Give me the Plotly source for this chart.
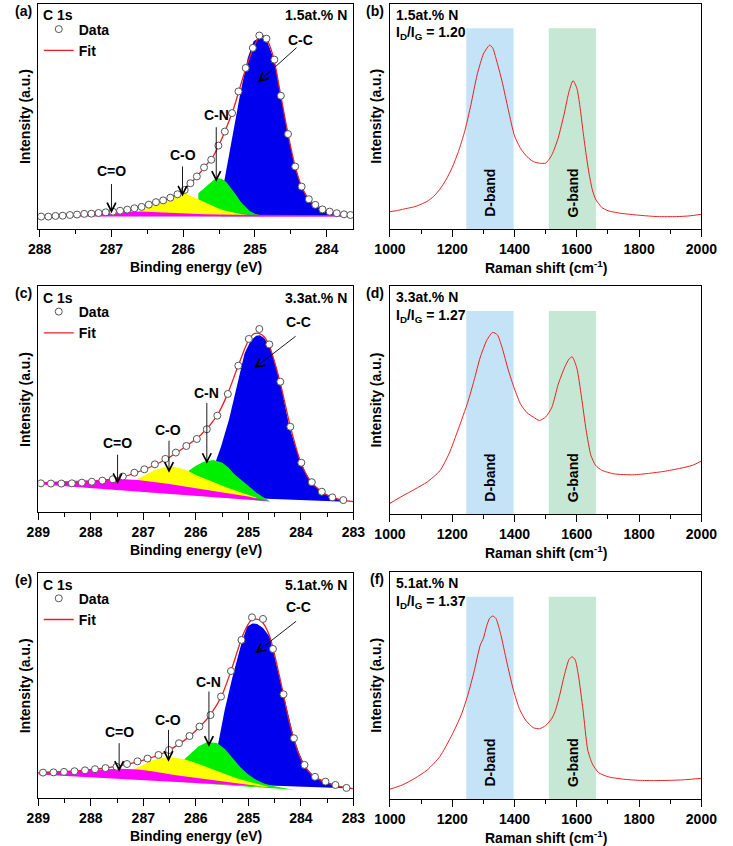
import plotly.graph_objects as go

W, H = 733, 846
FONT = "Liberation Sans, Arial, sans-serif"

# ===================== Panel (a): XPS C 1s, 1.5 at.% N =====================
a_data_E = [287.98, 287.88, 287.78, 287.68, 287.58, 287.48, 287.38, 287.28, 287.18, 287.08,
            286.98, 286.88, 286.78, 286.68, 286.58, 286.48, 286.38, 286.28, 286.18, 286.08,
            285.98, 285.90, 285.81, 285.71, 285.61, 285.51, 285.42, 285.32, 285.23, 285.13,
            285.03, 284.94, 284.84, 284.73, 284.64, 284.54, 284.44, 284.35, 284.25, 284.16,
            284.06, 283.96, 283.86, 283.76, 283.67]
a_data_I = [5.5, 5.5, 5.8, 5.9, 6.2, 6.4, 6.7, 6.8, 7.1, 7.4,
            7.7, 8.1, 8.6, 9.2, 9.8, 10.8, 11.9, 12.7, 13.9, 15.4,
            17.3, 20.3, 23.3, 27.3, 30.7, 37.0, 43.2, 51.4, 61.0, 71.4,
            80.3, 85.8, 84.4, 75.1, 59.1, 42.1, 27.7, 18.8, 13.2, 10.7,
            8.7, 7.7, 7.0, 6.5, 6.2]
a_fit_E = [288.0, 287.6, 287.2, 286.8, 286.6, 286.4, 286.2, 286.0, 285.9, 285.8, 285.7, 285.6,
           285.5, 285.4, 285.3, 285.2, 285.1, 285.0, 284.92, 284.85, 284.75, 284.65, 284.55,
           284.45, 284.35, 284.25, 284.15, 284.0, 283.8, 283.63]
a_fit_I = [5.5, 6.2, 7.0, 8.5, 9.7, 11.6, 13.6, 16.9, 20.2, 23.6, 27.6, 31.4,
           37.4, 44.8, 53.2, 63.8, 73.8, 82.0, 86.0, 84.8, 77.0, 60.8, 43.8,
           29.0, 18.8, 13.2, 10.5, 8.2, 6.8, 6.1]
a_cc_E = [285.47, 285.42, 285.37, 285.29, 285.20, 285.10, 285.02, 284.93, 284.84, 284.73, 284.64,
          284.54, 284.44, 284.35, 284.25, 284.16, 284.06, 283.96, 283.86, 283.76, 283.63]
a_cc_I = [14.0, 22.5, 31.4, 46.2, 61.0, 75.9, 83.3, 85.0, 84.0, 74.8, 58.8,
          41.8, 27.5, 18.6, 13.0, 10.5, 8.5, 7.5, 6.8, 6.3, 5.9]
a_cc_base = [5.6, 5.6]
a_cn_E = [285.79, 285.72, 285.65, 285.58, 285.53, 285.46, 285.40, 285.33, 285.26, 285.20,
          285.13, 285.07, 285.00, 284.93, 284.86]
a_cn_I = [15.8, 17.8, 19.8, 21.6, 22.6, 22.2, 20.8, 18.1, 15.0, 12.1, 9.6, 7.9, 6.8, 6.2, 5.8]
a_cn_base = [5.6, 5.6]
a_co_E = [286.60, 286.50, 286.40, 286.30, 286.20, 286.10, 286.02, 285.95, 285.89, 285.79,
          285.70, 285.60, 285.50, 285.40, 285.30, 285.20, 285.10, 285.00]
a_co_I = [8.0, 9.3, 10.8, 12.6, 14.2, 15.4, 15.9, 15.5, 14.6, 13.2,
          11.8, 10.3, 9.0, 8.0, 7.2, 6.6, 6.2, 5.9]
a_co_base = [5.6, 5.6]
a_c2o_E = [288.00, 287.70, 287.40, 287.10, 286.85, 286.60, 286.30, 286.00, 285.70, 285.30,
           284.80, 284.20, 283.63]
a_c2o_I = [5.8, 6.1, 6.6, 7.2, 7.7, 7.8, 7.3, 6.8, 6.5, 6.3, 6.2, 6.2, 6.1]
a_c2o_base = [5.5, 5.5]

# ===================== Panel (c): XPS C 1s, 3.3 at.% N =====================
c_data_E = [288.95, 288.76, 288.56, 288.36, 288.17, 287.98, 287.78, 287.58, 287.39, 287.17,
            286.98, 286.78, 286.58, 286.38, 286.18, 285.98, 285.79, 285.59, 285.39, 285.19,
            284.99, 284.79, 284.60, 284.39, 284.20, 283.99, 283.79, 283.60, 283.40, 283.19]
c_data_I = [12.8, 12.7, 12.7, 12.8, 13.1, 13.5, 14.0, 14.6, 15.8, 17.5,
            19.0, 21.2, 23.6, 26.4, 29.3, 32.4, 36.7, 42.7, 52.3, 64.8,
            76.6, 81.0, 74.2, 57.7, 37.8, 21.9, 13.3, 9.1, 6.6, 5.4]
c_fit_E = [289.0, 288.6, 288.2, 287.8, 287.4, 287.0, 286.6, 286.2, 285.9, 285.6, 285.4, 285.2,
           285.0, 284.9, 284.8, 284.7, 284.6, 284.4, 284.2, 284.0, 283.8, 283.6, 283.4, 283.2, 283.0]
c_fit_I = [13.0, 12.8, 13.1, 14.0, 15.6, 18.7, 23.0, 29.0, 34.3, 42.5, 52.0, 64.3,
           75.8, 78.8, 79.1, 77.6, 73.6, 58.0, 38.0, 22.0, 13.3, 9.1, 6.6, 5.4, 4.7]
c_cc_E = [285.68, 285.61, 285.52, 285.37, 285.22, 285.07, 284.95, 284.85, 284.78, 284.70, 284.60,
          284.50, 284.39, 284.30, 284.22, 284.10, 283.99, 283.90, 283.79, 283.70, 283.60, 283.50,
          283.40, 283.30, 283.19, 283.15]
c_cc_I = [14.0, 23.1, 29.0, 40.8, 55.5, 70.3, 76.0, 78.0, 78.2, 77.0, 73.5,
          67.0, 57.5, 47.5, 38.0, 29.0, 21.8, 17.0, 13.2, 11.0, 9.0, 7.6,
          6.5, 5.8, 5.2, 5.0]
c_cc_base = [6.9, 4.7]
c_cn_E = [286.13, 286.00, 285.85, 285.67, 285.50, 285.38, 285.28, 285.13, 284.98, 284.85, 284.73, 284.58]
c_cn_I = [18.5, 20.6, 22.3, 23.1, 22.0, 19.8, 17.2, 14.2, 11.3, 8.8, 6.9, 4.8]
c_cn_base = [7.6, 4.8]
c_co_E = [287.12, 286.95, 286.78, 286.60, 286.48, 286.35, 286.18, 286.00, 285.80, 285.59,
          285.40, 285.19, 285.00, 284.85]
c_co_I = [14.6, 16.8, 18.7, 19.8, 20.2, 19.8, 18.7, 16.5, 14.5, 12.5, 10.8, 9.2, 7.8, 6.5]
c_co_base = [9.2, 5.4]
c_c2o_E = [289.00, 288.60, 288.20, 287.80, 287.45, 287.10, 286.80, 286.50, 286.18, 285.80,
           285.40, 285.00, 284.61]
c_c2o_I = [13.3, 13.7, 14.1, 14.5, 14.7, 14.3, 13.5, 12.5, 11.3, 10.0, 8.6, 7.0, 5.0]
c_c2o_base = [12.4, 4.9]

# ===================== Panel (e): XPS C 1s, 5.1 at.% N =====================
e_data_E = [288.91, 288.71, 288.51, 288.31, 288.11, 287.92, 287.72, 287.51, 287.31, 287.11,
            286.92, 286.71, 286.51, 286.32, 286.12, 285.93, 285.72, 285.52, 285.33, 285.13,
            284.93, 284.72, 284.53, 284.33, 284.13, 283.93, 283.73, 283.53, 283.34, 283.13]
e_data_I = [11.4, 11.5, 11.7, 12.0, 12.4, 12.9, 13.4, 14.0, 15.2, 16.4,
            17.6, 19.2, 21.4, 24.4, 27.6, 31.8, 36.9, 45.1, 56.4, 70.2,
            80.2, 79.5, 66.2, 46.1, 26.6, 14.8, 9.5, 7.4, 5.9, 4.6]
e_fit_E = [289.0, 288.6, 288.2, 287.8, 287.4, 287.0, 286.6, 286.2, 285.9, 285.7, 285.5, 285.3,
           285.1, 284.95, 284.85, 284.75, 284.6, 284.4, 284.2, 284.0, 283.8, 283.6, 283.4, 283.2, 283.0]
e_fit_I = [11.4, 11.7, 12.3, 13.2, 14.6, 16.9, 20.2, 26.0, 32.3, 37.8, 45.8, 58.5,
           72.5, 78.8, 79.4, 78.5, 72.3, 53.5, 32.0, 17.5, 10.6, 7.7, 6.1, 4.9, 4.3]
e_cc_E = [285.65, 285.57, 285.45, 285.30, 285.13, 285.02, 284.92, 284.83, 284.72, 284.60, 284.53,
          284.43, 284.33, 284.23, 284.13, 284.03, 283.93, 283.83, 283.73, 283.53, 283.34, 283.13]
e_cc_I = [15.0, 24.7, 39.1, 53.9, 68.7, 76.1, 77.5, 77.3, 75.5, 71.8, 66.0,
          56.0, 46.0, 36.0, 26.6, 20.0, 14.8, 11.8, 9.5, 7.4, 5.9, 4.6]
e_cc_base = [6.5, 4.5]
e_cn_E = [286.22, 286.10, 285.95, 285.78, 285.60, 285.45, 285.30, 285.15, 285.00, 284.85,
          284.70, 284.50, 284.30, 284.12]
e_cn_I = [17.3, 20.0, 23.0, 25.0, 24.5, 22.0, 18.0, 13.8, 10.5, 8.2, 6.6, 5.3, 4.5, 4.0]
e_cn_base = [7.1, 3.8]
e_co_E = [287.16, 287.00, 286.85, 286.70, 286.53, 286.38, 286.22, 286.00, 285.80, 285.60,
          285.40, 285.20, 285.00, 284.80, 284.60]
e_co_I = [13.1, 15.0, 16.6, 17.6, 18.2, 17.9, 17.3, 15.6, 13.8, 12.0, 10.3, 8.7, 7.4, 6.2, 5.0]
e_co_base = [8.3, 5.0]
e_c2o_E = [289.00, 288.60, 288.20, 287.80, 287.43, 287.10, 286.80, 286.41, 286.00, 285.60,
           285.20, 284.72]
e_c2o_I = [11.7, 12.1, 12.5, 12.9, 13.1, 12.8, 11.9, 10.3, 9.0, 7.9, 6.7, 5.2]
e_c2o_base = [10.6, 5.2]

# ===================== Raman spectra =====================
b_shift = [1000, 1020, 1040, 1060, 1080, 1100, 1120, 1140, 1160, 1180, 1200, 1220, 1240, 1260,
           1280, 1300, 1310, 1320, 1330, 1340, 1360, 1380, 1400, 1420, 1440, 1460, 1480, 1500,
           1520, 1540, 1560, 1575, 1588, 1600, 1610, 1620, 1630, 1640, 1650, 1660, 1680, 1700,
           1740, 1800, 1860, 1920, 1960, 2000]
b_int = [7.7, 8.1, 8.7, 9.3, 9.9, 11.0, 12.3, 14.4, 17.6, 21.8, 27.3, 34.4, 43.3, 55.1,
         68.4, 77.6, 79.9, 81.5, 80.3, 75.9, 65.5, 52.9, 41.3, 35.6, 32.1, 29.9, 29.2, 29.2,
         32.9, 40.3, 51.4, 61.0, 65.8, 62.5, 54.4, 43.3, 32.9, 24.0, 17.3, 13.3, 9.6, 8.1,
         7.0, 6.1, 5.5, 5.5, 5.8, 6.5]
d_shift = [1000, 1040, 1080, 1120, 1160, 1190, 1220, 1250, 1270, 1290, 1310, 1320, 1330, 1345,
           1360, 1380, 1400, 1420, 1440, 1460, 1480, 1500, 1520, 1540, 1560, 1575, 1585, 1600,
           1615, 1630, 1645, 1660, 1680, 1720, 1780, 1830, 1880, 1930, 1970, 2000]
d_int = [4.8, 8.0, 11.0, 14.2, 19.0, 26.6, 37.5, 49.1, 58.6, 68.8, 76.0, 78.2, 79.7, 78.6,
         73.1, 63.2, 54.9, 48.1, 44.5, 42.6, 41.1, 42.6, 46.9, 56.8, 64.1, 68.0, 69.0, 64.1,
         51.3, 36.8, 25.9, 21.5, 19.3, 17.7, 17.3, 17.9, 18.8, 20.1, 21.4, 23.3]
f_shift = [1000, 1040, 1080, 1120, 1160, 1200, 1230, 1250, 1270, 1290, 1300, 1310, 1320, 1330,
           1340, 1355, 1375, 1395, 1415, 1435, 1460, 1480, 1500, 1520, 1530, 1545, 1560, 1575,
           1585, 1595, 1605, 1620, 1635, 1650, 1670, 1700, 1750, 1800, 1850, 1900, 1950, 2000]
f_int = [4.3, 6.2, 9.1, 12.8, 18.6, 28.4, 37.4, 45.7, 56.0, 67.7, 70.7, 75.8, 79.5, 80.5,
         79.5, 72.9, 60.4, 48.7, 39.9, 34.8, 31.4, 30.9, 32.3, 35.5, 38.4, 45.7, 54.5, 61.4,
         62.6, 61.1, 54.5, 39.1, 21.6, 15.4, 11.6, 9.8, 8.7, 8.2, 8.1, 8.2, 8.5, 9.1]

d_band_range = [1245, 1397]
g_band_range = [1510, 1662]
band_top = 89

# ===================== Text labels =====================
panel_letters = ["(a)", "(b)", "(c)", "(d)", "(e)", "(f)"]
n_contents = ["1.5at.% N", "1.5at.% N", "3.3at.% N", "3.3at.% N", "5.1at.% N", "5.1at.% N"]
id_ig = ["1.20", "1.27", "1.37"]
peak_names = ["C=O", "C-O", "C-N", "C-C"]
# label centre (E, I), arrow tail (E, I) and arrow tip (E, I) per XPS panel
a_lbl = [(287.0, 25.5), (286.01, 32.9), (285.54, 50.7), (284.36, 84.0)]
a_tail = [(287.0, 20.6), (286.01, 28.4), (285.54, 45.8), (284.40, 81.0)]
a_tip = [(287.0, 7.0), (286.01, 14.4), (285.54, 21.0), (284.96, 65.0)]
c_lbl = [(287.50, 30.5), (286.52, 36.4), (285.79, 52.6), (284.05, 84.2)]
c_tail = [(287.49, 26.1), (286.51, 32.3), (285.79, 48.9), (284.07, 78.3)]
c_tip = [(287.49, 12.5), (286.51, 17.5), (285.79, 21.4), (284.89, 63.6)]
e_lbl = [(287.46, 29.5), (286.53, 34.7), (285.75, 51.7), (284.04, 84.9)]
e_tail = [(287.46, 25.1), (286.52, 31.0), (285.75, 48.0), (284.06, 79.0)]
e_tip = [(287.46, 11.8), (286.52, 16.2), (285.75, 22.9), (284.87, 64.3)]

COL = {"C-C": "#0000ee", "C-N": "#00ee00", "C-O": "#ffff00", "C=O": "#ff00ff"}
RED = "rgb(232,32,32)"

# pixel boxes of the six plot areas (left, right, top, bottom)
boxes = [(23.3, 352.7, 3.5, 229.0), (391.0, 716.7, 3.5, 229.0),
         (23.3, 352.7, 286.0, 512.3), (391.0, 716.7, 286.0, 514.3),
         (23.3, 352.7, 572.7, 798.3), (391.0, 716.7, 571.7, 799.0)]
sufs = ["", "2", "3", "4", "5", "6"]

fig = go.Figure()
annotations = []
shapes = []


def bold(size=14):
    return dict(family=FONT, size=size, color="black", weight="bold")


def add_xps(suf, legend, comps, data_E, data_I, fit_E, fit_I, lbl, tail, tip):
    xr, yr = "x" + suf, "y" + suf
    # components: C-C, C-N, C-O, C=O  (drawn in this order)
    for name, (E, I, base) in comps:
        fig.add_trace(go.Scatter(
            x=E + [E[-1], E[0]], y=I + [base[1], base[0]], xaxis=xr, yaxis=yr,
            mode="lines", fill="toself", fillcolor=COL[name], line=dict(width=0, color=COL[name]),
            showlegend=False, hoverinfo="skip"))
    fig.add_trace(go.Scatter(x=fit_E, y=fit_I, xaxis=xr, yaxis=yr, mode="lines", name="Fit",
                             line=dict(color=RED, width=1.3, shape="spline", smoothing=0.8),
                             legend=legend))
    fig.add_trace(go.Scatter(x=data_E, y=data_I, xaxis=xr, yaxis=yr, mode="markers", name="Data",
                             marker=dict(symbol="circle", size=7, color="white",
                                         line=dict(color="#555555", width=1)),
                             legend=legend))
    for name, (lx, ly) in zip(peak_names, lbl):
        annotations.append(dict(x=lx, y=ly, xref=xr, yref=yr, text=name, showarrow=False,
                                font=bold(14), xanchor="center", yanchor="middle"))
    for (sx, sy), (tx, ty) in zip(tail, tip):
        annotations.append(dict(x=tx, y=ty, ax=sx, ay=sy, xref=xr, yref=yr, axref=xr, ayref=yr,
                                text="", showarrow=True, arrowhead=5, arrowsize=1.9,
                                arrowwidth=0.9, arrowcolor="black", standoff=0))


def add_raman(suf, shift, inten):
    xr, yr = "x" + suf, "y" + suf
    for rng, col in ((d_band_range, "rgb(196,227,246)"), (g_band_range, "rgb(199,231,213)")):
        shapes.append(dict(type="rect", xref=xr, yref=yr, x0=rng[0], x1=rng[1], y0=0, y1=band_top,
                           fillcolor=col, line=dict(width=0), layer="below"))
    fig.add_trace(go.Scatter(x=shift, y=inten, xaxis=xr, yaxis=yr, mode="lines",
                             line=dict(color=RED, width=1, shape="spline", smoothing=0.6),
                             showlegend=False, hoverinfo="skip"))
    for txt, rng in (("D-band", d_band_range), ("G-band", g_band_range)):
        annotations.append(dict(x=(rng[0] + rng[1]) / 2, y=16, xref=xr, yref=yr, text=txt,
                                textangle=-90, showarrow=False, font=bold(14)))


add_xps("", "legend",
        [("C-C", (a_cc_E, a_cc_I, a_cc_base)), ("C-N", (a_cn_E, a_cn_I, a_cn_base)),
         ("C-O", (a_co_E, a_co_I, a_co_base)), ("C=O", (a_c2o_E, a_c2o_I, a_c2o_base))],
        a_data_E, a_data_I, a_fit_E, a_fit_I, a_lbl, a_tail, a_tip)
add_raman("2", b_shift, b_int)
add_xps("3", "legend2",
        [("C-C", (c_cc_E, c_cc_I, c_cc_base)), ("C-N", (c_cn_E, c_cn_I, c_cn_base)),
         ("C-O", (c_co_E, c_co_I, c_co_base)), ("C=O", (c_c2o_E, c_c2o_I, c_c2o_base))],
        c_data_E, c_data_I, c_fit_E, c_fit_I, c_lbl, c_tail, c_tip)
add_raman("4", d_shift, d_int)
add_xps("5", "legend3",
        [("C-C", (e_cc_E, e_cc_I, e_cc_base)), ("C-N", (e_cn_E, e_cn_I, e_cn_base)),
         ("C-O", (e_co_E, e_co_I, e_co_base)), ("C=O", (e_c2o_E, e_c2o_I, e_c2o_base))],
        e_data_E, e_data_I, e_fit_E, e_fit_I, e_lbl, e_tail, e_tip)
add_raman("6", f_shift, f_int)

layout = dict(width=W, height=H, margin=dict(l=0, r=0, t=0, b=0),
              paper_bgcolor="white", plot_bgcolor="white", font=bold(14), showlegend=True)

xps_ranges = {"": [288.02, 283.63], "3": [289.0, 283.0], "5": [289.0, 283.0]}
for i, (suf, (l, r, t, b)) in enumerate(zip(sufs, boxes)):
    is_xps = suf in xps_ranges
    common = dict(showline=True, linecolor="black", linewidth=1.3, mirror=True,
                  showgrid=False, zeroline=False)
    xa = dict(domain=[l / W, r / W], anchor="y" + suf, ticks="outside", ticklen=7, tickwidth=1.3,
              tickcolor="black", tickfont=bold(14), ticklabelstandoff=0, **common)
    if is_xps:
        xa.update(range=xps_ranges[suf], tick0=0, dtick=1,
                  minor=dict(ticks="outside", ticklen=4, tickwidth=1.3, tickcolor="black", dtick=0.5))
    else:
        xa.update(range=[1000, 2000], tick0=0, dtick=200,
                  minor=dict(ticks="outside", ticklen=4, tickwidth=1.3, tickcolor="black", dtick=100))
    ya = dict(domain=[1 - b / H, 1 - t / H], anchor="x" + suf, range=[0, 100],
              showticklabels=False, ticks="", **common)
    layout["xaxis" + suf] = xa
    layout["yaxis" + suf] = ya
    xr, yr = "x" + suf + " domain", "y" + suf + " domain"
    # axis titles
    annotations.append(dict(x=0.5, y=0, xref=xr, yref=yr, yshift=-38, showarrow=False,
                            text="Binding energy (eV)" if is_xps else "Raman shift (cm<sup>-1</sup>)",
                            font=bold(14), xanchor="center", yanchor="middle"))
    annotations.append(dict(x=0, y=0.5, xref=xr, yref=yr, xshift=-13.5, showarrow=False,
                            text="Intensity (a.u.)", textangle=-90, font=bold(14),
                            xanchor="center", yanchor="middle"))
    # panel letter
    annotations.append(dict(x=(l - 4) / W, y=1 - (t + 7) / H, xref="paper", yref="paper",
                            text=panel_letters[i], showarrow=False, font=bold(14),
                            xanchor="right", yanchor="middle"))
    if is_xps:
        annotations.append(dict(x=0.01, y=1 - 12 / (b - t), xref=xr, yref=yr, text="C 1s",
                                showarrow=False, font=bold(14), xanchor="left", yanchor="middle"))
        annotations.append(dict(x=0.987, y=1 - 12 / (b - t), xref=xr, yref=yr, text=n_contents[i],
                                showarrow=False, font=bold(14), xanchor="right", yanchor="middle"))
    else:
        annotations.append(dict(x=0.014, y=1 - 11.5 / (b - t), xref=xr, yref=yr, text=n_contents[i],
                                showarrow=False, font=bold(14), xanchor="left", yanchor="middle"))
        annotations.append(dict(x=0.014, y=1 - 30 / (b - t), xref=xr, yref=yr,
                                text="I<sub>D</sub>/I<sub>G</sub> = " + id_ig[i // 2],
                                showarrow=False, font=bold(14), xanchor="left", yanchor="middle"))

for key, (l, r, t, b) in zip(["legend", "legend2", "legend3"], [boxes[0], boxes[2], boxes[4]]):
    layout[key] = dict(x=(l + 0.5) / W, y=1 - (t + 10) / H, xanchor="left", yanchor="top",
                       bgcolor="rgba(0,0,0,0)", font=bold(14), traceorder="reversed",
                       tracegroupgap=0, itemwidth=30)

layout["annotations"] = annotations
layout["shapes"] = shapes
fig.update_layout(**layout)
fig.write_html("out.html", config={"displayModeBar": False},
               post_script="document.body.style.margin='0px';document.body.style.padding='0px';")
